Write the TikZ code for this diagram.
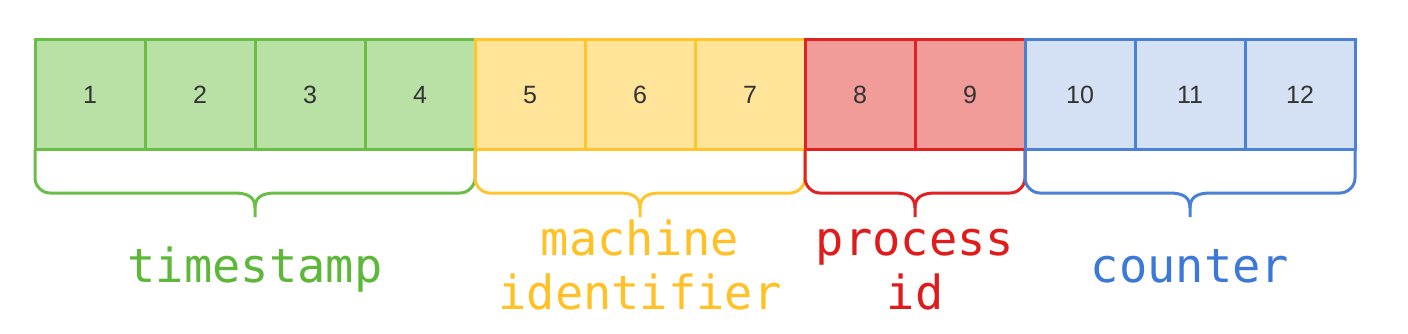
\documentclass[tikz,border=0pt]{standalone}
\usepackage{fontspec}
\newfontfamily\cellfont{Liberation Sans}
\newfontfamily\labelfont{DejaVu Sans Mono}
\definecolor{gS}{HTML}{6ABE45}\definecolor{gF}{HTML}{B9E0A5}\definecolor{gT}{HTML}{5DB83A}
\definecolor{yS}{HTML}{FFC52B}\definecolor{yF}{HTML}{FFE499}\definecolor{yT}{HTML}{FFC125}
\definecolor{rS}{HTML}{E02222}\definecolor{rF}{HTML}{F19C99}\definecolor{rT}{HTML}{E01B1B}
\definecolor{bS}{HTML}{4A80D6}\definecolor{bF}{HTML}{D4E1F5}\definecolor{bT}{HTML}{3C78D8}
\definecolor{digit}{HTML}{333333}
\tikzset{
  cellbox/.style={draw=#1S, fill=#1F, line width=3pt, minimum width=110pt, minimum height=110pt,
    inner sep=0pt, outer sep=0pt, text=digit, font=\cellfont\fontsize{25}{28}\selectfont},
  bracepath/.style={draw=#1S, line width=3pt},
  grouplabel/.style={text=#1T, anchor=base, inner sep=0pt, font=\labelfont\fontsize{47}{54}\selectfont}
}
\begin{document}
\begin{tikzpicture}[x=1pt,y=-1pt]
\useasboundingbox (0,0) rectangle (1408,334);
% cells
\foreach \i/\c in {1/g,2/g,3/g,4/g,5/y,6/y,7/y,8/r,9/r,10/b,11/b,12/b}{
  \node[cellbox=\c] (c\i) at ({35+110*\i-55},95) {\i};
}
% braces
\newcommand{\grpbrace}[4]{% color, first cell, last cell, middle x
  \draw[bracepath=#1] (#2.south west) -- ++(0,28) .. controls ++(0,8) and ++(-8,0) .. ++(15,15) -- (#4-21,193)
    .. controls (#4-7,193) and (#4,197) .. (#4,208) -- (#4,217);
  \draw[bracepath=#1] (#3.south east) -- ++(0,28) .. controls ++(0,8) and ++(8,0) .. ++(-15,15) -- (#4+21,193)
    .. controls (#4+7,193) and (#4,197) .. (#4,208);
}
\grpbrace{g}{c1}{c4}{255}
\grpbrace{y}{c5}{c7}{640}
\grpbrace{r}{c8}{c9}{915}
\grpbrace{b}{c10}{c12}{1190}
% labels
\node[grouplabel=g] (ts) at (255,282) {timestamp};
\node[grouplabel=y] (mi1) at (640,255) {machine};
\node[grouplabel=y] (mi2) at (640,309) {identifier};
\node[grouplabel=r] (pi1) at (915,255) {process};
\node[grouplabel=r] (pi2) at (915,309) {id};
\node[grouplabel=b] (ct) at (1190,282) {counter};
\end{tikzpicture}
\end{document}
